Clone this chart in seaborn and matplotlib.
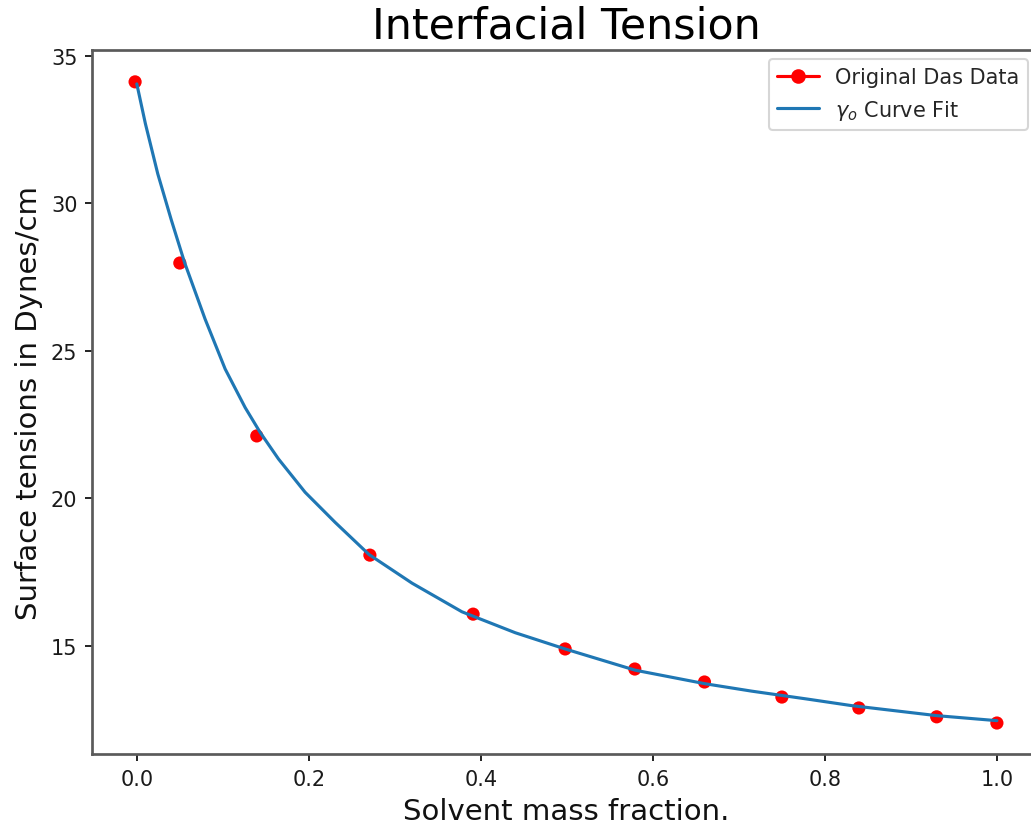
import matplotlib
matplotlib.use("Agg")
import matplotlib.pyplot as plt
from matplotlib.lines import Line2D
import seaborn as sns
import pandas as pd

# Measured data (red points)
data_x = [-0.002, 0.05, 0.1395, 0.271, 0.391, 0.498, 0.579, 0.660, 0.750, 0.8395, 0.930, 1.0]
data_y = [34.12, 27.98, 22.12, 18.08, 16.08, 14.90, 14.22, 13.78, 13.27, 12.90, 12.60, 12.39]

# Curve fit
fit_x = [0.0, 0.01, 0.0244, 0.04, 0.0555, 0.0794, 0.1027, 0.126, 0.1434, 0.1647,
         0.1957, 0.2306, 0.27, 0.32, 0.378, 0.44, 0.498, 0.5795, 0.661, 0.715,
         0.78, 0.831, 0.93, 1.0]
fit_y = [34.05, 32.7, 31.0, 29.45, 28.0, 26.08, 24.39, 23.08, 22.24, 21.34,
         20.21, 19.19, 18.1, 17.13, 16.16, 15.45, 14.9, 14.18, 13.72, 13.47,
         13.2, 12.98, 12.64, 12.47]

title = "Interfacial Tension"
xlabel = "Solvent mass fraction."
ylabel = "Surface tensions in Dynes/cm"
legend_labels = ["Original Das Data", r"$\gamma_o$ Curve Fit"]

sns.set_style("ticks")
plt.rcParams["font.family"] = ["DejaVu Sans"]
plt.rcParams["mathtext.fontset"] = "dejavusans"

df_pts = pd.DataFrame({"x": data_x, "y": data_y})
df_fit = pd.DataFrame({"x": fit_x, "y": fit_y})

fig = plt.figure(figsize=(1031 / 150, 828 / 150), dpi=150)
ax = fig.add_axes([92 / 1031, 1 - 755 / 828, 948 / 1031, (755 - 51) / 828])

sns.scatterplot(data=df_pts, x="x", y="y", ax=ax, color="red", s=40,
                edgecolor="none", linewidth=0, zorder=2)
sns.lineplot(data=df_fit, x="x", y="y", ax=ax, color="#1f77b4", linewidth=1.5,
             zorder=3, sort=False, estimator=None)

ax.set_xlim(-0.0521, 1.0501)
ax.set_ylim(11.34, 35.2)
ax.set_xticks([0.0, 0.2, 0.4, 0.6, 0.8, 1.0])
ax.set_yticks([15, 20, 25, 30, 35])

for sp in ax.spines.values():
    sp.set_color("#5a5a5a")
    sp.set_linewidth(1.3)
ax.spines["right"].set_visible(False)
ax.tick_params(axis="both", labelsize=10, colors="#1a1a1a", length=3.5, width=0.9)

ax.set_title(title, fontsize=20.5, color="black")
ax.set_xlabel(xlabel, fontsize=14, color="#111111")
ax.set_ylabel(ylabel, fontsize=14, color="#111111")

handles = [
    Line2D([0], [0], color="red", marker="o", markersize=6, linewidth=1.5),
    Line2D([0], [0], color="#1f77b4", linewidth=1.5),
]
ax.legend(handles, legend_labels, loc="upper right", fontsize=10,
          bbox_to_anchor=(1028 / 1031, 1 - 60 / 828), bbox_transform=fig.transFigure,
          borderaxespad=0, frameon=True, framealpha=0.8, edgecolor="#cccccc")

fig.savefig("out.png", dpi=150)
